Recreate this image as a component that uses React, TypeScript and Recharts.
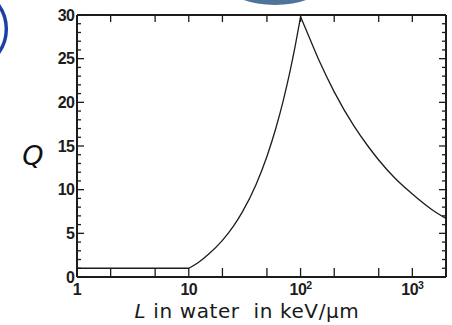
import React from 'react';
import { LineChart, Line, XAxis, YAxis } from 'recharts';

// LET (keV/µm) and quality factor Q
const letValues = [1, 10, 12, 15, 20, 25, 30, 40, 50, 60, 70, 80, 90, 100, 120, 150, 200, 300, 400, 500, 700, 1000, 1500, 2000];
const qValues = [1, 1, 1.6, 2.6, 4.2, 5.8, 7.4, 10.6, 13.8, 17, 20.2, 23.4, 26.6, 29.8, 27.4, 24.5, 21.2, 17.3, 15, 13.4, 11.3, 9.5, 7.7, 6.7];

const xTicks = [1, 2, 5, 10, 20, 50, 100, 200, 500, 1000];
const xLabels: Record<number, string> = { 1: '1', 10: '10', 100: '10', 1000: '10' };
const xPowers: Record<number, string> = { 100: '2', 1000: '3' };
const yTicks = Array.from({ length: 31 }, (_, i) => i);

// split into the three pieces of the curve so each bend stays sharp
const data = letValues.map((l, i) => ({
  l,
  flat: l <= 10 ? qValues[i] : null,
  rise: l >= 10 && l <= 100 ? qValues[i] : null,
  fall: l >= 100 ? qValues[i] : null,
}));

const ink = '#1c1c1c';
const tickFont = 'Liberation Sans, Arial, sans-serif';

function BottomTick(props: any) {
  const { x, y, payload } = props;
  const v = payload.value;
  const label = xLabels[v];
  return (
    <g>
      <line x1={x} x2={x} y1={y} y2={y - 9} stroke={ink} strokeWidth={1.3} />
      {label && (
        <text x={x} y={y + 18} textAnchor="middle" fontFamily={tickFont} fontWeight={700} fontSize={16} letterSpacing={-0.5} fill={ink}>
          {label}
          {xPowers[v] && (
            <tspan fontSize={10.5} dy={-6.5}>
              {xPowers[v]}
            </tspan>
          )}
        </text>
      )}
    </g>
  );
}

function TopTick(props: any) {
  const { x, y } = props;
  return <line x1={x} x2={x} y1={y} y2={y + 7} stroke={ink} strokeWidth={1.3} />;
}

function LeftTick(props: any) {
  const { x, y, payload } = props;
  const major = payload.value % 5 === 0;
  return (
    <g>
      <line x1={x} x2={x + (major ? 7 : 4)} y1={y} y2={y} stroke={ink} strokeWidth={1.3} />
      {major && (
        <text x={x - 3} y={y + 5.5} textAnchor="end" fontFamily={tickFont} fontWeight={700} fontSize={16} letterSpacing={-0.8} fill={ink}>
          {payload.value}
        </text>
      )}
    </g>
  );
}

function RightTick(props: any) {
  const { x, y, payload } = props;
  const major = payload.value % 5 === 0;
  return <line x1={x} x2={x - (major ? 7 : 4)} y1={y} y2={y} stroke={ink} strokeWidth={1.3} />;
}

export default function App() {
  return (
    <div style={{ position: 'absolute', left: 0, top: 0, width: 452, height: 325, background: '#fff' }}>
      <svg width={452} height={325} style={{ position: 'absolute', left: 0, top: 0 }}>
        <ellipse cx={275} cy={-14} rx={46} ry={19} fill="#4f739b" />
        <path d="M -3 3 A 41 41 0 0 1 -3 55" fill="none" stroke="#1d3fa6" strokeWidth={3.5} />
        <text x={33} y={165} textAnchor="middle" fontFamily="DejaVu Sans, Verdana, sans-serif" fontStyle="italic" fontSize={27} fill="#111">
          Q
        </text>
        <text x={247} y={318} textAnchor="middle" fontFamily="DejaVu Sans, Verdana, sans-serif" fontSize={20} letterSpacing={0.6} fill="#1a1a1a">
          <tspan fontStyle="italic">L</tspan> in water{'\u00a0\u00a0'}in keV/µm
        </text>
      </svg>
      <div style={{ position: 'absolute', left: 0, top: 0 }}>
        <LineChart width={452} height={325} data={data} margin={{ top: 14, right: 5, bottom: 18, left: 32 }}>
          <XAxis
            xAxisId="b"
            dataKey="l"
            type="number"
            scale="log"
            domain={[1, 2000]}
            allowDataOverflow
            ticks={xTicks}
            interval={0}
            height={30}
            tickSize={0}
            tickMargin={0}
            tick={<BottomTick />}
            axisLine={{ stroke: ink, strokeWidth: 2 }}
          />
          <XAxis
            xAxisId="t"
            orientation="top"
            dataKey="l"
            type="number"
            scale="log"
            domain={[1, 2000]}
            allowDataOverflow
            ticks={xTicks}
            interval={0}
            height={1}
            tickSize={0}
            tickMargin={0}
            tick={<TopTick />}
            axisLine={{ stroke: ink, strokeWidth: 2 }}
          />
          <YAxis
            yAxisId="l"
            type="number"
            domain={[0, 30]}
            ticks={yTicks}
            interval={0}
            width={45}
            tickSize={0}
            tickMargin={0}
            tick={<LeftTick />}
            axisLine={{ stroke: ink, strokeWidth: 2 }}
          />
          <YAxis
            yAxisId="r"
            orientation="right"
            type="number"
            domain={[0, 30]}
            ticks={yTicks}
            interval={0}
            width={1}
            tickSize={0}
            tickMargin={0}
            tick={<RightTick />}
            axisLine={{ stroke: ink, strokeWidth: 2 }}
          />
          <Line xAxisId="b" yAxisId="l" type="linear" dataKey="flat" stroke={ink} strokeWidth={1.3} dot={false} isAnimationActive={false} />
          <Line xAxisId="b" yAxisId="l" type="monotone" dataKey="rise" stroke={ink} strokeWidth={1.3} dot={false} isAnimationActive={false} />
          <Line xAxisId="b" yAxisId="l" type="monotone" dataKey="fall" stroke={ink} strokeWidth={1.3} dot={false} isAnimationActive={false} />
          <Line xAxisId="t" yAxisId="r" type="linear" dataKey="fall" stroke="none" dot={false} isAnimationActive={false} />
        </LineChart>
      </div>
    </div>
  );
}
